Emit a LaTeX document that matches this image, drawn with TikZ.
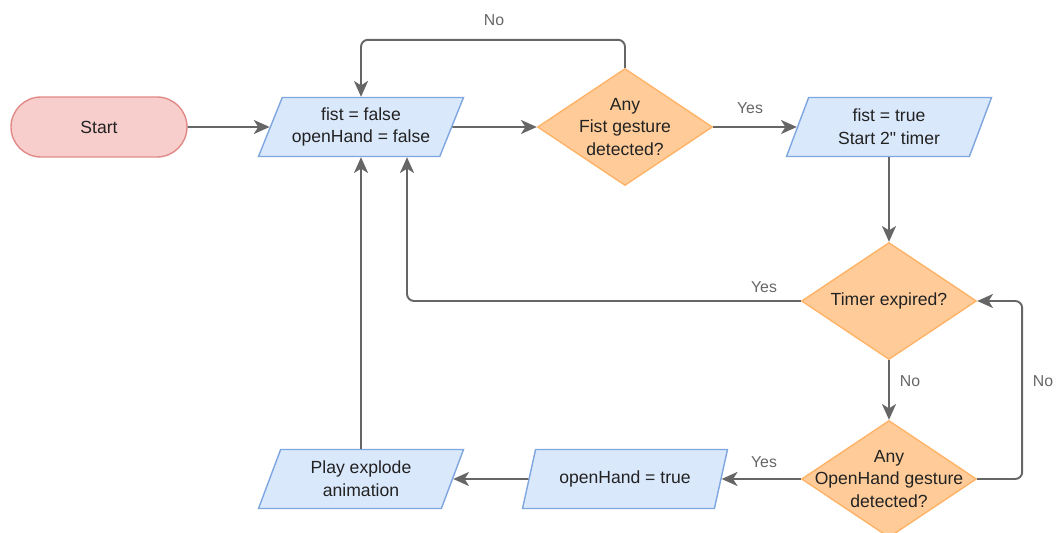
\documentclass[tikz,border=0pt]{standalone}
\usepackage{fontspec}
\setmainfont{Liberation Sans}[Ligatures=TeXOff]
\usetikzlibrary{arrows.meta,shapes.geometric,calc}
\definecolor{lineg}{HTML}{666666}
\definecolor{txt}{HTML}{222222}
\definecolor{lbltxt}{HTML}{666666}
\definecolor{termfill}{HTML}{F8CECC}
\definecolor{termdraw}{HTML}{E08A87}
\definecolor{iofill}{HTML}{DAE8FC}
\definecolor{iodraw}{HTML}{7EA6E0}
\definecolor{decfill}{HTML}{FFCC99}
\definecolor{decdraw}{HTML}{FFB366}

\begin{document}
\begin{tikzpicture}[font=\fontsize{10}{13}\selectfont,
  term/.style={rectangle,rounded corners=0.6cm,draw=termdraw,fill=termfill,line width=0.8pt,minimum width=3.52cm,minimum height=1.2cm,text=txt},
  io/.style={trapezium,trapezium left angle=65,trapezium right angle=115,trapezium stretches body,draw=iodraw,fill=iofill,line width=0.8pt,minimum width=4.1cm,minimum height=1.18cm,align=center,text=txt},
  dec/.style={diamond,draw=decdraw,fill=decfill,line width=0.8pt,minimum width=3.5cm,minimum height=2.34cm,inner sep=0pt},
  conn/.style={draw=lineg,line width=1.1pt,-{Stealth[length=9pt,width=8pt,inset=2.5pt]},rounded corners=4pt},
  lbl/.style={text=lbltxt,font=\fontsize{9}{11}\selectfont}]
  \useasboundingbox (0,0) rectangle (21.12,-10.66);

  \node[term] (start) at (1.98,-2.54) {Start};
  \node[io] (init) at (7.22,-2.54) {fist = false\\openHand = false};
  \node[dec,label={[align=center,text=txt]center:Any\\Fist gesture\\detected?}] (fist) at (12.5,-2.54) {};
  \node[io] (settrue) at (17.78,-2.54) {fist = true\\Start 2" timer};

  \node[dec,label={[text=txt]center:Timer expired?}] (timer) at (17.78,-6.02) {};
  \node[dec,label={[align=center,text=txt]center:Any\\OpenHand gesture\\detected?}] (open) at (17.78,-9.58) {};
  \node[io] (handtrue) at (12.5,-9.58) {openHand = true};
  \node[io] (play) at (7.22,-9.58) {Play explode\\animation};

  \node[lbl] (nofist) at (9.88,-0.4) {No};
  \node[lbl] (yesfist) at (15.0,-2.16) {Yes};
  \node[lbl] (yestimer) at (15.28,-5.74) {Yes};
  \node[lbl] (notimer) at (18.2,-7.62) {No};
  \node[lbl] (noopen) at (20.86,-7.62) {No};
  \node[lbl] (yesopen) at (15.28,-9.24) {Yes};

  \draw[conn] (start) -- (init);
  \draw[conn] (init) -- (fist);
  \draw[conn] (fist) -- (settrue);
  \draw[conn] (fist.north) -- ++(0,0.56) -| (init.north);
  \draw[conn] (settrue.south) -- (timer.north);
  \draw[conn] (timer.west) -| ($(init.south)+(0.92,0)$);
  \draw[conn] (timer.south) -- (open.north);
  \draw[conn] (open.east) -- ++(0.9,0) |- (timer.east);
  %\draw[conn] (open.east) -| (20.4,-6.02) -- (timer.east);
  \draw[conn] (open.west) -- (handtrue.east);
  \draw[conn] (handtrue.west) -- (play.east);
  \draw[conn] (play.north) -- (init.south);
\end{tikzpicture}
\end{document}
